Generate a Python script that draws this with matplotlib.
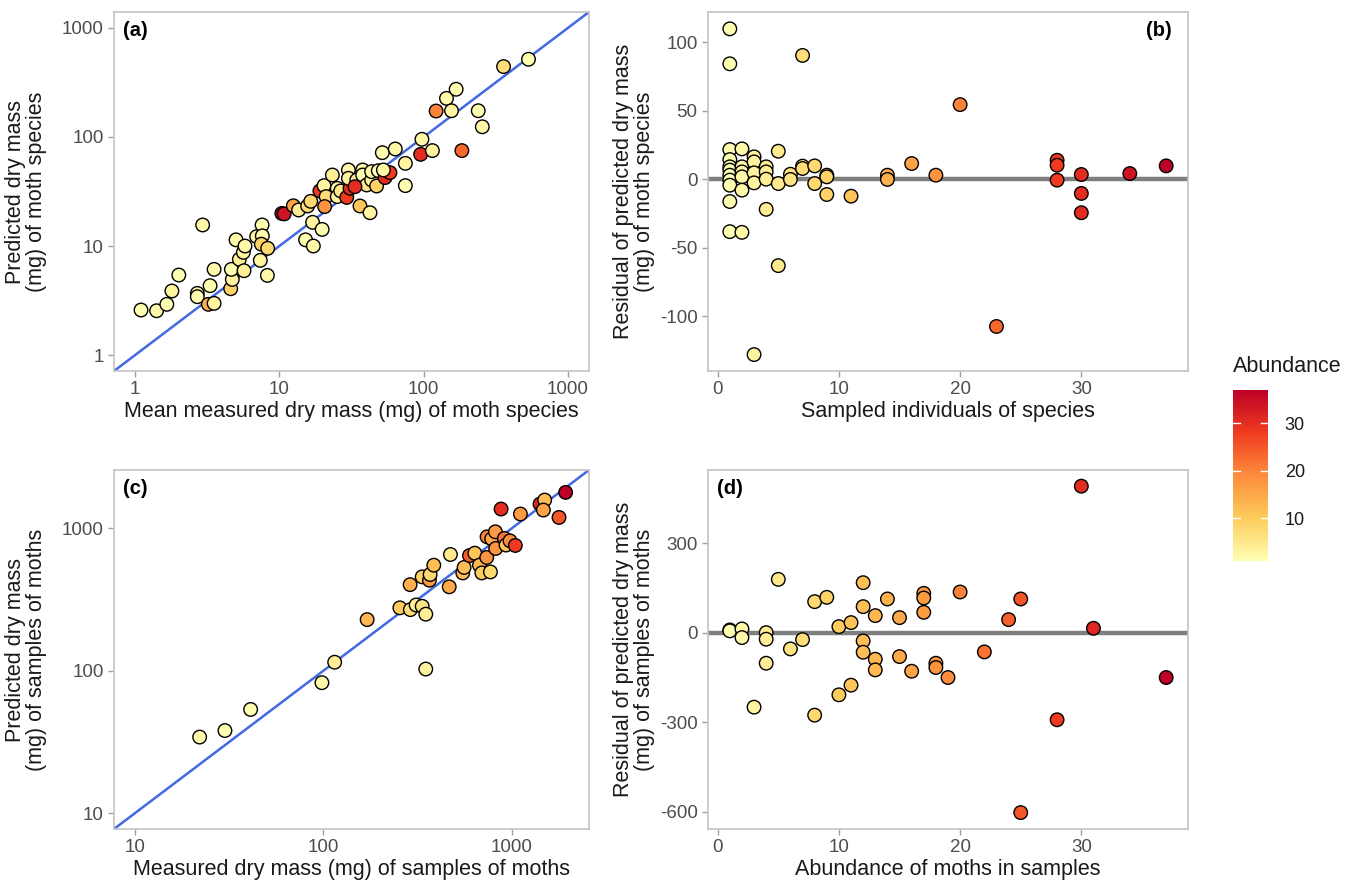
import matplotlib

matplotlib.use("Agg")
import matplotlib.pyplot as plt
from matplotlib.colors import LinearSegmentedColormap, Normalize
from matplotlib.cm import ScalarMappable
from matplotlib.ticker import FixedLocator, NullLocator, FixedFormatter

# (a) species means: measured vs predicted dry mass (mg), colour = abundance
a_meas = [1.10, 1.41, 1.66, 1.80, 2.01, 2.70, 2.70, 2.94, 3.22, 3.53, 3.31, 3.53, 4.60, 4.72,
          4.65, 5.01, 5.28, 5.63, 5.78, 5.69, 6.96, 7.59, 7.62, 7.50, 8.30, 7.38, 8.26, 10.4,
          10.8, 12.5, 13.6, 15.7, 16.5, 15.2, 17.2, 17.0, 19.8, 19.1, 20.4, 21.1, 20.6, 23.3,
          25.2, 25.2, 26.6, 29.3, 30.9, 30.1, 30.1, 34.4, 36.2, 42.5, 37.8, 37.8, 40.3, 43.6,
          47.2, 43.6, 48.5, 54.0, 58.4, 52.6, 33.4, 51.7, 63.6, 74.7, 74.7, 95.3, 97.3, 115,
          122, 144, 156, 168, 184, 239, 255, 358, 533]
a_pred = [2.59, 2.55, 2.92, 3.87, 5.42, 3.68, 3.43, 15.6, 2.92, 2.98, 4.33, 6.11, 4.06, 4.94,
          6.11, 11.4, 7.55, 8.75, 10.0, 5.94, 12.2, 15.6, 12.4, 10.4, 9.53, 7.39, 5.38, 19.9,
          19.7, 23.4, 21.4, 23.3, 25.7, 11.4, 10.0, 16.5, 14.2, 32.0, 35.8, 28.4, 23.0, 44.8,
          33.8, 28.4, 32.0, 27.9, 33.8, 49.8, 41.8, 40.3, 23.3, 20.2, 49.8, 44.8, 36.3, 40.3,
          35.5, 48.1, 49.1, 42.4, 47.1, 49.8, 35.0, 71.8, 77.6, 57.3, 35.8, 69.3, 95.2, 75.0,
          173, 226, 174, 274, 75, 174, 124, 442, 516]
a_abund = [1, 2, 1, 3, 1, 2, 1, 2, 14, 3, 1, 2, 9, 3, 1, 2, 4, 3, 2, 4, 3, 1, 2, 9, 8, 3, 2,
           37, 34, 16, 4, 7, 8, 1, 2, 3, 1, 28, 3, 7, 18, 4, 2, 3, 5, 28, 30, 2, 3, 4, 11, 3,
           2, 1, 5, 3, 9, 2, 1, 30, 28, 2, 30, 1, 2, 3, 1, 30, 2, 3, 20, 2, 3, 1, 23, 1, 2, 7, 1]

# (b) residuals per species vs number of sampled individuals (colour = individuals)
b_n = [1, 1, 1, 1, 1, 1, 1, 1, 1, 1, 1, 2, 2, 2, 2, 2, 2, 3, 3, 3, 3, 3, 4, 4, 4, 4, 5, 5, 5,
       6, 6, 7, 7, 7, 8, 8, 9, 9, 9, 11, 14, 14, 16, 18, 20, 23, 28, 28, 28, 30, 30, 30, 34, 37]
b_resid = [109.7, 84.2, 21.6, 14.3, 9.0, 6.6, 2.9, -0.7, -4.4, -16.3, -38.3, 22.1, 9.0, 5.3,
           1.7, -8.0, -38.8, 16.3, 12.6, 4.6, -2.7, -128.0, 9.0, 5.3, 0.0, -22.0, 20.4, -3.2,
           -63.1, 3.6, -0.2, 90.3, 9.5, 7.8, 9.7, -3.2, 2.9, 1.7, -11.2, -12.4, 2.9, -0.2,
           11.4, 2.9, 54.4, -107.5, 13.8, 10.2, -0.7, 3.4, -10.4, -24.5, 4.1, 9.7]

# (c) samples: measured vs predicted dry mass (mg), colour = abundance in sample
c_meas = [22.1, 30.1, 41.2, 98.4, 115, 171, 255, 290, 311, 335, 350, 350, 289, 335, 366, 369,
          386, 466, 473, 550, 559, 597, 637, 674, 694, 737, 771, 740, 783, 819, 822, 914, 933,
          979, 1045, 878, 1112, 1413, 1496, 1472, 1782, 1932]
c_pred = [34.3, 38.1, 53.6, 82.6, 115, 229, 277, 269, 290, 284, 250, 103, 403, 457, 433, 475,
          552, 389, 656, 487, 532, 645, 670, 552, 487, 625, 495, 873, 845, 947, 723, 851, 764,
          818, 759, 1368, 1262, 1483, 1581, 1346, 1194, 1790]
c_abund = [2, 1, 1, 2, 4, 13, 10, 7, 4, 6, 4, 3, 14, 9, 17, 8, 12, 15, 5, 12, 12, 24, 11, 13,
           10, 18, 8, 20, 15, 17, 18, 22, 11, 19, 28, 30, 17, 31, 12, 16, 25, 37]

# (d) residuals per sample vs abundance of moths in sample
d_abund = [1, 1, 2, 2, 3, 4, 4, 4, 5, 6, 7, 8, 8, 9, 10, 10, 11, 11, 12, 12, 12, 12, 13, 13,
           13, 14, 15, 15, 16, 17, 17, 17, 18, 18, 19, 20, 22, 24, 25, 25, 28, 30, 31, 37]
d_resid = [10, 7, 13.4, -15.6, -248.7, 1, -21, -101.5, 179.6, -53.5, -22.3, 104.8, -275.5,
           119.3, 21.2, -207.4, 34.6, -175, 168.4, 88.1, -26.8, -64.7, 58, -88.1, -123.8,
           113.8, 51.3, -79.2, -128.3, 132.7, 117.1, 69.1, -101.5, -116, -149.4, 137.2, -63.6,
           44.6, 113.8, -602, -291, 491.8, 15.6, -149.4]

W, H = 1358, 881
CMAP = LinearSegmentedColormap.from_list(
    "ylorrd5", ["#ffffb2", "#fecc5c", "#fd8d3c", "#f03b20", "#bd0026"])
NORM = Normalize(1, 37)
plt.rcParams["font.family"] = ["Liberation Sans", "DejaVu Sans"]
plt.rcParams["axes.unicode_minus"] = False

fig = plt.figure(figsize=(W / 100, H / 100), dpi=100)


def px_axes(l, t, r, b):
    return fig.add_axes([l / W, 1 - b / H, (r - l) / W, (b - t) / H])


def style(ax, xlabel, ylabel, tag, tag_right=False, ylab_x=-0.14):
    for s in ax.spines.values():
        s.set_color("#c4c4c4")
        s.set_linewidth(1.2)
    ax.tick_params(colors="#a0a0a0", labelcolor="#4d4d4d", labelsize=13.5,
                   length=4, width=1)
    ax.set_xlabel(xlabel, fontsize=15.5, color="#1a1a1a")
    ax.set_ylabel(ylabel, fontsize=15.5, color="#1a1a1a", linespacing=1.0)
    ax.xaxis.set_label_coords(0.5, -0.084)
    ax.yaxis.set_label_coords(ylab_x, 0.5)
    if tag_right:
        ax.text(0.967, 0.975, tag, transform=ax.transAxes, ha="right", va="top",
                fontsize=14.5, fontweight="bold")
    else:
        ax.text(0.019, 0.975, tag, transform=ax.transAxes, ha="left", va="top",
                fontsize=14.5, fontweight="bold")


def points(ax, x, y, c):
    ax.scatter(x, y, c=c, cmap=CMAP, norm=NORM, s=95, edgecolors="black",
               linewidths=1.0, zorder=3)


def log_axes(ax, ticks, lo, hi):
    for axis in (ax.xaxis, ax.yaxis):
        axis.set_major_locator(FixedLocator(ticks))
        axis.set_major_formatter(FixedFormatter([str(t) for t in ticks]))
        axis.set_minor_locator(NullLocator())
    ax.set_xlim(lo, hi)
    ax.set_ylim(lo, hi)


# (a)
ax = px_axes(114, 12, 589, 371)
ax.set_xscale("log")
ax.set_yscale("log")
ax.axline((1, 1), (10, 10), color="#4169e1", lw=1.8, zorder=2)
points(ax, a_meas, a_pred, a_abund)
log_axes(ax, [1, 10, 100, 1000], 10 ** -0.146, 10 ** 3.146)
style(ax, "Mean measured dry mass (mg) of moth species",
      "Predicted dry mass\n(mg) of moth species", "(a)")

# (b)
ax = px_axes(708, 12, 1188, 371)
ax.axhline(0, color="#7f7f7f", lw=3.2, zorder=2)
points(ax, b_n, b_resid, b_n)
ax.set_xlim(-0.8, 38.8)
ax.set_ylim(-140, 122)
ax.set_xticks([0, 10, 20, 30])
ax.set_yticks([-100, -50, 0, 50, 100])
style(ax, "Sampled individuals of species",
      "Residual of predicted dry mass\n(mg) of moth species", "(b)", tag_right=True,
      ylab_x=-0.11)

# (c)
ax = px_axes(114, 470, 589, 829)
ax.set_xscale("log")
ax.set_yscale("log")
ax.axline((10, 10), (100, 100), color="#4169e1", lw=1.8, zorder=2)
points(ax, c_meas, c_pred, c_abund)
log_axes(ax, [10, 100, 1000], 10 ** 0.89, 10 ** 3.41)
style(ax, "Measured dry mass (mg) of samples of moths",
      "Predicted dry mass\n(mg) of samples of moths", "(c)")

# (d)
ax = px_axes(708, 470, 1188, 829)
ax.axhline(0, color="#7f7f7f", lw=3.2, zorder=2)
points(ax, d_abund, d_resid, d_abund)
ax.set_xlim(-0.8, 38.8)
ax.set_ylim(-657, 546)
ax.set_xticks([0, 10, 20, 30])
ax.set_yticks([-600, -300, 0, 300])
style(ax, "Abundance of moths in samples",
      "Residual of predicted dry mass\n(mg) of samples of moths", "(d)", ylab_x=-0.11)

# colour bar
cax = px_axes(1233, 390, 1268, 561)
cb = fig.colorbar(ScalarMappable(norm=NORM, cmap=CMAP), cax=cax, ticks=[10, 20, 30])
cb.outline.set_visible(False)
cax.tick_params(length=0, labelsize=13, labelcolor="#1a1a1a", pad=12)
for v in [10, 20, 30]:
    cax.axhline(v, xmin=0, xmax=0.2, color="white", lw=1)
    cax.axhline(v, xmin=0.8, xmax=1, color="white", lw=1)
fig.text(1233 / W, 1 - 367 / H, "Abundance", fontsize=15.5, ha="left", va="center",
         color="#1a1a1a")

fig.savefig("out.png", dpi=100)
